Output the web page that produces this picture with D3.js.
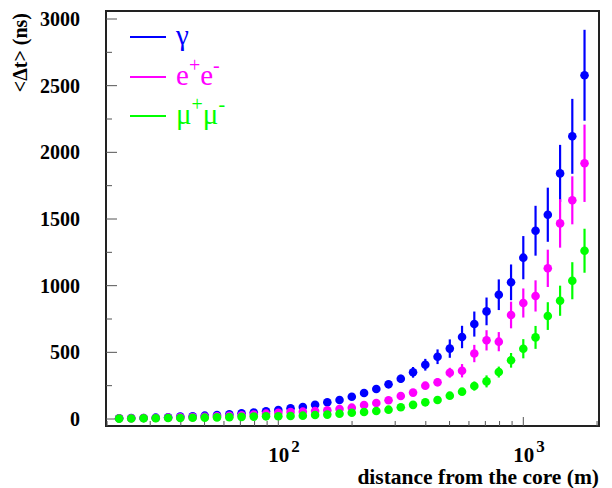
<!DOCTYPE html>
<html>
<head>
<meta charset="utf-8">
<script src="https://cdn.jsdelivr.net/npm/d3@7"></script>
<style>
  html, body { margin: 0; padding: 0; background: #fff; }
  svg { display: block; }
  text { font-family: "Liberation Serif", "Times New Roman", serif; }
</style>
</head>
<body>
<div id="chart"></div>
<script>
// ---------- data ----------
const distances = [22.4, 25.1, 28.2, 31.6, 35.5, 39.8, 44.7, 50.1, 56.2, 63.1,
  70.8, 79.4, 89.1, 100, 112.2, 125.9, 141.3, 158.5, 177.8, 199.5,
  223.9, 251.2, 281.8, 316.2, 354.8, 398.1, 446.7, 501.2, 562.3, 631.0,
  707.9, 794.3, 891.3, 1000, 1122, 1259, 1413, 1585, 1778];

const gammaMean = [6, 7, 8, 10, 13, 18, 21, 25, 30, 36,
  43, 49, 58, 67, 80, 90, 107, 125, 142, 167,
  195, 225, 260, 302, 350, 407, 467, 528, 615, 712,
  807, 932, 1025, 1210, 1412, 1532, 1842, 2120, 2578];
const gammaErr = [2, 2, 2, 2, 3, 3, 3, 4, 4, 5,
  5, 6, 7, 8, 9, 10, 11, 12, 14, 16,
  18, 20, 24, 30, 40, 44, 55, 69, 84, 94,
  104, 115, 134, 162, 187, 203, 214, 281, 341];

const eeMean = [5, 6, 7, 8, 10, 12, 14, 17, 20, 24,
  28, 33, 40, 46, 52, 55, 60, 65, 75, 85,
  105, 120, 141, 173, 198, 250, 276, 347, 362, 491,
  590, 580, 780, 870, 923, 1130, 1467, 1640, 1918];
const eeErr = [2, 2, 2, 2, 2, 3, 3, 3, 4, 4,
  5, 5, 6, 6, 7, 8, 9, 10, 11, 12,
  10, 12, 14, 18, 20, 22, 31, 37, 50, 65,
  76, 72, 100, 109, 117, 140, 182, 180, 290];

const mumuMean = [3, 4, 5, 6, 7, 8, 9, 10, 12, 14,
  16, 18, 20, 21, 23, 25, 30, 33, 40, 47,
  52, 60, 70, 88, 106, 125, 143, 175, 205, 247,
  282, 352, 440, 527, 612, 772, 887, 1037, 1262];
const mumuErr = [1, 1, 1, 1, 1, 1, 2, 2, 2, 2,
  2, 3, 3, 3, 3, 4, 4, 5, 5, 6,
  6, 7, 8, 9, 10, 10, 12, 14, 22, 34,
  45, 41, 55, 72, 86, 104, 113, 139, 165];

const seriesNames = ["γ", "e+e-", "μ+μ-"];
const seriesColors = ["#0000ff", "#ff00ff", "#00ff00"];

const yTicksMajor = [0, 500, 1000, 1500, 2000, 2500, 3000];
const xTicksMajor = [100, 1000];

const xTitle = "distance from the core (m)";
const yTitle = "<Δt> (ns)";

// ---------- layout ----------
const W = 612, H = 488;
const frame = { left: 106, right: 599, top: 11, bottom: 426 };

const svg = d3.select("#chart").append("svg")
  .attr("width", W).attr("height", H);

const x = d3.scaleLog().domain([19.8, 2037]).range([frame.left, frame.right]);
const y = d3.scaleLinear().domain([-52.5, 3060]).range([frame.bottom, frame.top]);

// frame
svg.append("rect")
  .attr("x", frame.left).attr("y", frame.top)
  .attr("width", frame.right - frame.left).attr("height", frame.bottom - frame.top)
  .attr("fill", "none").attr("stroke", "#222").attr("stroke-width", 2);

// y ticks (inward)
const yMinor = d3.range(0, 3001, 250).filter(v => v % 500 !== 0);
const gy = svg.append("g");
gy.selectAll("line.maj").data(yTicksMajor).join("line")
  .attr("x1", frame.left).attr("x2", frame.left + 11)
  .attr("y1", d => y(d)).attr("y2", d => y(d))
  .attr("stroke", "#555").attr("stroke-width", 1);
gy.selectAll("line.min").data(yMinor).join("line")
  .attr("x1", frame.left).attr("x2", frame.left + 6)
  .attr("y1", d => y(d)).attr("y2", d => y(d))
  .attr("stroke", "#555").attr("stroke-width", 1);
gy.selectAll("text").data(yTicksMajor).join("text")
  .attr("x", 80).attr("y", d => y(d))
  .attr("dy", "0.35em")
  .attr("text-anchor", "end")
  .attr("font-size", 20).attr("font-weight", "bold")
  .text(d => d);

// x ticks (inward)
const xMinor = [];
[10, 100, 1000].forEach(dec => {
  for (let m = 2; m <= 9; m++) {
    const v = dec * m;
    if (v > x.domain()[0] && v < x.domain()[1]) xMinor.push(v);
  }
});
const gx = svg.append("g");
gx.selectAll("line.maj").data(xTicksMajor).join("line")
  .attr("x1", d => x(d)).attr("x2", d => x(d))
  .attr("y1", frame.bottom).attr("y2", frame.bottom - 9)
  .attr("stroke", "#555").attr("stroke-width", 1);
gx.selectAll("line.min").data(xMinor).join("line")
  .attr("x1", d => x(d)).attr("x2", d => x(d))
  .attr("y1", frame.bottom).attr("y2", frame.bottom - 5)
  .attr("stroke", "#555").attr("stroke-width", 1);
const xl = gx.selectAll("text").data(xTicksMajor).join("text")
  .attr("x", d => x(d) - 10).attr("y", 462)
  .attr("text-anchor", "start")
  .attr("font-size", 21).attr("font-weight", "bold");
xl.append("tspan").text("10");
xl.append("tspan").attr("dx", 2).attr("dy", -10).attr("font-size", 17)
  .text(d => Math.round(Math.log10(d)));

// axis titles
svg.append("text")
  .attr("x", frame.right).attr("y", 484)
  .attr("text-anchor", "end")
  .attr("font-size", 21.5).attr("font-weight", "bold")
  .text(xTitle);
svg.append("text")
  .attr("transform", "translate(27,13) rotate(-90)")
  .attr("text-anchor", "end")
  .attr("font-size", 20).attr("font-weight", "bold")
  .text(yTitle);

// data series
const allSeries = [
  { mean: gammaMean, err: gammaErr, color: seriesColors[0] },
  { mean: eeMean, err: eeErr, color: seriesColors[1] },
  { mean: mumuMean, err: mumuErr, color: seriesColors[2] }
];
allSeries.forEach(s => {
  const pts = distances.map((d, i) => ({ d, m: s.mean[i], e: s.err[i] }));
  const g = svg.append("g");
  g.selectAll("line").data(pts).join("line")
    .attr("x1", p => x(p.d)).attr("x2", p => x(p.d))
    .attr("y1", p => y(p.m - p.e)).attr("y2", p => y(p.m + p.e))
    .attr("stroke", s.color).attr("stroke-width", 2.2);
  g.selectAll("circle").data(pts).join("circle")
    .attr("cx", p => x(p.d)).attr("cy", p => y(p.m))
    .attr("r", 4.3).attr("fill", s.color);
});

// legend
const legY = [37, 77, 116];
const lg = svg.append("g");
seriesNames.forEach((name, i) => {
  lg.append("line")
    .attr("x1", 130).attr("x2", 166)
    .attr("y1", legY[i]).attr("y2", legY[i])
    .attr("stroke", seriesColors[i]).attr("stroke-width", 2);
  const t = lg.append("text")
    .attr("x", 176).attr("y", legY[i] + 8)
    .attr("font-size", 29).attr("fill", seriesColors[i]);
  if (i === 0) {
    t.text(name);
  } else {
    const base = name[0];
    t.append("tspan").text(base);
    t.append("tspan").attr("dy", -13).attr("font-size", 20).text("+");
    t.append("tspan").attr("dy", 13).text(base);
    t.append("tspan").attr("dy", -13).attr("font-size", 20).text("-");
  }
});
</script>
</body>
</html>
